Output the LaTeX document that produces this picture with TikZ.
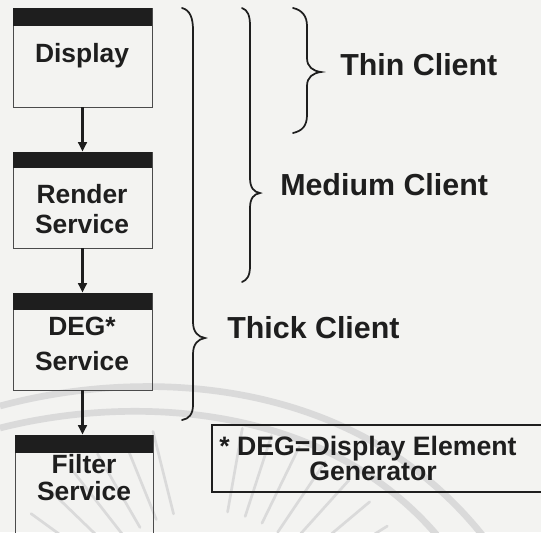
\documentclass[tikz,border=0pt]{standalone}
\usepackage{fontspec}
\setmainfont{Liberation Sans}
\usetikzlibrary{arrows.meta,calc}
\definecolor{paper}{HTML}{F3F3F1}
\definecolor{ink}{HTML}{1E1E1E}
\definecolor{wmark}{HTML}{DADADA}
\begin{document}
\begin{tikzpicture}[x=0.75pt,y=-0.75pt,
  box/.style={draw=ink!80,line width=0.7pt,rectangle,inner sep=0pt},
  hdr/.style={fill=ink},
  lbl/.style={font=\bfseries\fontsize{19.8pt}{22pt}\selectfont,text=ink,anchor=base,inner sep=0pt},
  cli/.style={font=\bfseries\fontsize{22.8pt}{26pt}\selectfont,text=ink,anchor=base west,inner sep=0pt},
  note/.style={font=\bfseries\fontsize{20pt}{23pt}\selectfont,text=ink,anchor=base,inner sep=0pt},
  arr/.style={draw=ink,line width=1.6pt,-{Triangle[length=7pt,width=6.5pt]}},
  brc/.style={draw=ink,line width=1.3pt,line cap=round},
  wm/.style={draw=wmark,line width=5pt},
  ray/.style={draw=wmark,line width=2pt,line cap=round}]
\useasboundingbox (0,0) rectangle (541,532);
\fill[paper] (0,0) rectangle (541,532);
% faint watermark
\draw[wm] (0,406) .. controls (140,368) and (360,372) .. (490,545);
\draw[wm] (0,428) .. controls (130,395) and (330,400) .. (445,545);
\foreach \a in {100,108,116,124,132,140,148,156} {
  \draw[ray] ($(205,640)+(\a:-130)$) -- ($(205,640)+(\a:-215)$);
}
\foreach \a in {28,36,44,52,60,68,76} {
  \draw[ray] ($(205,640)+(\a:-130)$) -- ($(205,640)+(\a:-215)$);
}
% boxes
\node[box,minimum width=104.25pt,minimum height=74.25pt] (disp) at (82.5,57.5) {};
\fill[hdr] (disp.north west) rectangle ([yshift=-14pt]disp.north east);
\node[box,minimum width=104.25pt,minimum height=72pt] (rend) at (82.5,200) {};
\fill[hdr] (rend.north west) rectangle ([yshift=-12.5pt]rend.north east);
\node[box,minimum width=104.25pt,minimum height=72.75pt] (deg) at (82.5,341.5) {};
\fill[hdr] (deg.north west) rectangle ([yshift=-13pt]deg.north east);
\node[box,minimum width=103.5pt,minimum height=78.75pt] (filt) at (84,487.5) {};
\fill[hdr] (filt.north west) rectangle ([yshift=-13.5pt]filt.north east);
% labels
\node[lbl] (tdisp) at (82,62) {Display};
\node[lbl] (trend1) at (82,203) {Render};
\node[lbl] (trend2) at (82,233) {Service};
\node[lbl] (tdeg1) at (82,335) {DEG*};
\node[lbl] (tdeg2) at (82,370) {Service};
\node[lbl] (tfilt1) at (84,473) {Filter};
\node[lbl] (tfilt2) at (84,500) {Service};
% arrows
\draw[arr] (disp.south) -- (rend.north);
\draw[arr] (rend.south) -- (deg.north);
\draw[arr] (deg.south) -- (deg.south |- filt.north);
% braces
\draw[brc] (182,8) .. controls (190,10) and (193,18) .. (193,30) -- (193,322)
  .. controls (193,332) and (198,337) .. (205,338)
  .. controls (198,339) and (193,344) .. (193,354) -- (193,405)
  .. controls (193,414) and (189,419) .. (182,420);
\draw[brc] (242,8) .. controls (248,10) and (250,16) .. (250,26) -- (250,178)
  .. controls (250,188) and (254,192) .. (260,193)
  .. controls (254,194) and (250,198) .. (250,208) -- (250,266)
  .. controls (250,276) and (247,280) .. (242,282);
\draw[brc] (293,8) .. controls (302,10) and (307,16) .. (307,26) -- (307,58)
  .. controls (307,67) and (313,71) .. (321,72)
  .. controls (313,73) and (307,77) .. (307,86) -- (307,115)
  .. controls (307,126) and (302,131) .. (293,133);
% client labels
\node[cli] (thin) at (340,75) {Thin Client};
\node[cli] (medium) at (280,195) {Medium Client};
\node[cli] (thick) at (227,338) {Thick Client};
% footnote
\node[box,draw=ink,line width=1pt,minimum width=261pt,minimum height=50.25pt] (fn) at (386,458.5) {};
\node[note] (fn1) at (368,455) {* DEG=Display Element};
\node[note] (fn2) at (373,480) {Generator};
\end{tikzpicture}
\end{document}
